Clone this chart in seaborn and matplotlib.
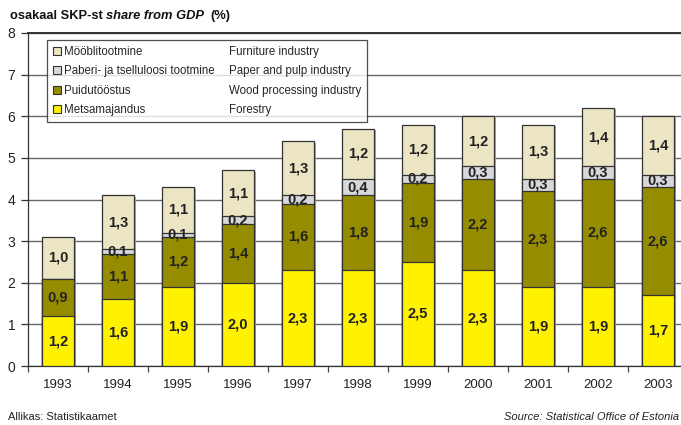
import numpy as np
import pandas as pd
import matplotlib
matplotlib.use("Agg")
import matplotlib.pyplot as plt
import matplotlib.patheffects as pe
from matplotlib.patches import Patch
import seaborn as sns

years = ['1993', '1994', '1995', '1996', '1997', '1998', '1999', '2000', '2001', '2002', '2003']
forestry = [1.2, 1.6, 1.9, 2.0, 2.3, 2.3, 2.5, 2.3, 1.9, 1.9, 1.7]
wood = [0.9, 1.1, 1.2, 1.4, 1.6, 1.8, 1.9, 2.2, 2.3, 2.6, 2.6]
paper = [0.0, 0.1, 0.1, 0.2, 0.2, 0.4, 0.2, 0.3, 0.3, 0.3, 0.3]
furniture = [1.0, 1.3, 1.1, 1.1, 1.3, 1.2, 1.2, 1.2, 1.3, 1.4, 1.4]

names_et = ['Metsamajandus', 'Puidutööstus', 'Paberi- ja tselluloosi tootmine', 'Mööblitootmine']
names_en = ['Forestry', 'Wood processing industry', 'Paper and pulp industry', 'Furniture industry']
colors = ['#FFF200', '#968C00', '#D8D8DC', '#EBE5C4']

sns.set_style("ticks")
plt.rcParams['font.family'] = ['Liberation Sans', 'DejaVu Sans']

df = pd.DataFrame({'year': years, 'Forestry': forestry, 'Wood': wood,
                   'Paper': paper, 'Furniture': furniture})
layers = ['Forestry', 'Wood', 'Paper', 'Furniture']
cum = df[layers].cumsum(axis=1)

fig = plt.figure(figsize=(6.81, 4.25), dpi=100)
ax = fig.add_axes([28 / 681, 59 / 425, 660 / 681, 333 / 425])

shadow = [pe.SimplePatchShadow(offset=(1.6, -1.0), shadow_rgbFace='#999999', alpha=0.8), pe.Normal()]
# stacked bars: draw the cumulative totals from the top layer down
for i in range(3, -1, -1):
    sns.barplot(x=df['year'], y=cum[layers[i]], color=colors[i], width=0.53,
                edgecolor='#333333', linewidth=0.9, saturation=1, ax=ax, zorder=3)
for p in ax.patches:
    p.set_path_effects(shadow)

# value labels
for j in range(len(years)):
    base = 0
    for i, col in enumerate(layers):
        v = df[col][j]
        if v > 0:
            ax.text(j, base + v / 2, f"{v:.1f}".replace('.', ','), ha='center', va='center',
                    fontsize=10.5, fontweight='bold', color='#222222', zorder=5)
        base += v

ax.set_ylim(0, 8)
ax.set_xlim(-0.5, len(years) - 0.5)
ax.set_yticks(range(0, 9))
ax.yaxis.grid(True, color='#666666', linewidth=1.0, zorder=0)
ax.set_axisbelow(True)
ax.set_xlabel('')
ax.set_ylabel('')
ax.set_xticks(np.arange(-0.5, len(years)), minor=True)
ax.tick_params(axis='x', which='major', length=0, pad=9, labelsize=9.5, labelcolor='#222222')
ax.tick_params(axis='x', which='minor', length=4, width=0.9, color='#444444', direction='out')
ax.tick_params(axis='y', length=5, width=0.9, color='#333333', labelsize=10, pad=4, labelcolor='#222222')
for s in ['left', 'bottom']:
    ax.spines[s].set_color('#333333')
    ax.spines[s].set_linewidth(0.9)
ax.spines['top'].set_visible(True)
ax.spines['top'].set_color('#333333')
ax.spines['top'].set_linewidth(1.4)
ax.spines['right'].set_visible(False)

# legend: Estonian names with swatches, English names in a second column
handles = [Patch(facecolor=colors[i], edgecolor='#333333', linewidth=0.8) for i in range(3, -1, -1)]
handles += [Patch(facecolor='none', edgecolor='none') for _ in range(4)]
labels = names_et[::-1] + names_en[::-1]
leg = ax.legend(handles, labels, ncol=2, loc='upper left', bbox_to_anchor=(0.0288, 0.979),
                fontsize=8.3, frameon=True, fancybox=False, edgecolor='#222222',
                handlelength=0.75, handleheight=0.75, handletextpad=0.25,
                labelspacing=0.65, columnspacing=0.2, borderpad=0.5, borderaxespad=0)
leg.get_frame().set_linewidth(0.9)
leg.set_zorder(6)

ty = 1 - 16 / 425
fig.text(10 / 681, ty, 'osakaal SKP-st', fontsize=9.3, fontweight='bold', va='center', color='#111111')
fig.text(106 / 681, ty, 'share from GDP', fontsize=9.3, fontweight='bold', style='italic',
         va='center', color='#111111')
fig.text(210 / 681, ty, '(%)', fontsize=9.3, fontweight='bold', va='center', color='#111111')
fig.text(8 / 681, 1 - 417 / 425, 'Allikas: Statistikaamet', fontsize=8, va='center', color='#222222')
fig.text(679 / 681, 1 - 417 / 425, 'Source: Statistical Office of Estonia', fontsize=8, style='italic',
         ha='right', va='center', color='#222222')

fig.savefig('out.png', dpi=100)
